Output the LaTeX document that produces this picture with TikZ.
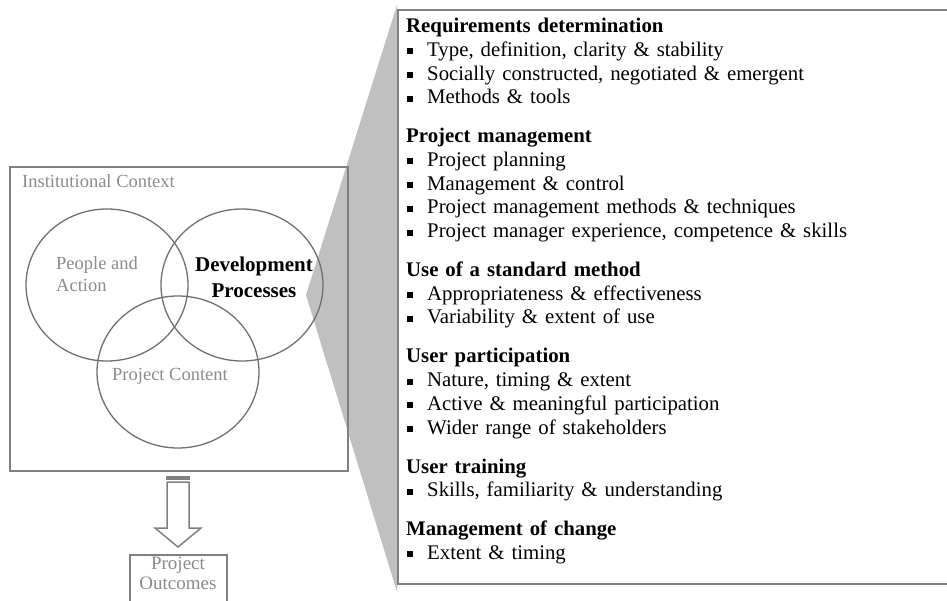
\documentclass[tikz,border=0pt]{standalone}
\usepackage{fontspec}
\setmainfont{Liberation Serif}
\usetikzlibrary{shapes.geometric}
\definecolor{linegray}{HTML}{808080}
\definecolor{txtgray}{HTML}{8C8C8C}
\definecolor{shadegray}{HTML}{C0C0C0}
\definecolor{circgray}{HTML}{707070}
\newcommand{\sqbul}{\hspace*{1pt}\makebox[20pt][l]{\rule[2pt]{6pt}{6pt}}}
\begin{document}
\begin{tikzpicture}[x=1pt,y=-1pt,
  frame/.style={draw=linegray, line width=2pt, inner sep=0pt, anchor=north west},
  venn/.style={ellipse, draw=circgray, line width=1.3pt, minimum width=162pt, minimum height=152pt, inner sep=0pt},
  gtext/.style={text=txtgray, font=\fontsize{18.5}{22.5}\selectfont, inner sep=0pt, align=left},
  boldtext/.style={font=\bfseries\fontsize{21}{26}\selectfont, inner sep=0pt, align=center},
  listtext/.style={anchor=north west, inner sep=0pt, align=left, text width=530pt, font=\fontsize{20.8}{23.7}\selectfont}
]
\clip (0,0) rectangle (947,601);
\fill[white] (0,0) rectangle (947,601);
% zoom wedge
\fill[shadegray] (397,5) coordinate (wa) -- (306,295) coordinate (wb) -- (397,592) coordinate (wc) -- cycle;
% institutional context
\node[frame, minimum width=338pt, minimum height=304pt] (ctx) at (9,166) {};
\node[gtext, anchor=west] (ctxlabel) at (22,181) {Institutional Context};
% venn
\node[venn] (pa) at (107,285) {};
\node[venn] (dpc) at (242,285) {};
\node[venn] (pcc) at (178,372) {};
\node[gtext, anchor=west] (palabel) at (56,274) {People and\\Action};
\node[boldtext] (dplabel) at (254,277) {Development\\Processes};
\node[gtext] (pclabel) at (170,376) {Project Content};
% block arrow
\coordinate (atop) at (178,476);
\fill[linegray] (166,476) rectangle (190,480);
\draw[linegray, line width=1.5pt, line join=miter] (167,482) -- (167,528) -- (155,528) -- (178,547) coordinate (atip) -- (201,528) -- (189,528) -- (189,482) -- cycle;
% project outcomes
\node[frame, line width=1.5pt, minimum width=97pt, minimum height=60pt] (out) at (129,554) {};
\node[gtext, align=center, font=\fontsize{19}{20}\selectfont] (outlabel) at (178,573) {Project\\Outcomes};
% right panel
\node[frame, fill=white, minimum width=600pt, minimum height=574pt] (panel) at (397,9) {};
\node[listtext] (items) at (406,18) {%
\textbf{Requirements determination}\\
\sqbul Type, definition, clarity \& stability\\
\sqbul Socially constructed, negotiated \& emergent\\
\sqbul Methods \& tools\\[15.3pt]
\textbf{Project management}\\
\sqbul Project planning\\
\sqbul Management \& control\\
\sqbul Project management methods \& techniques\\
\sqbul Project manager experience, competence \& skills\\[15.3pt]
\textbf{Use of a standard method}\\
\sqbul Appropriateness \& effectiveness\\
\sqbul Variability \& extent of use\\[15.3pt]
\textbf{User participation}\\
\sqbul Nature, timing \& extent\\
\sqbul Active \& meaningful participation\\
\sqbul Wider range of stakeholders\\[15.3pt]
\textbf{User training}\\
\sqbul Skills, familiarity \& understanding\\[15.3pt]
\textbf{Management of change}\\
\sqbul Extent \& timing};
\end{tikzpicture}
\end{document}
